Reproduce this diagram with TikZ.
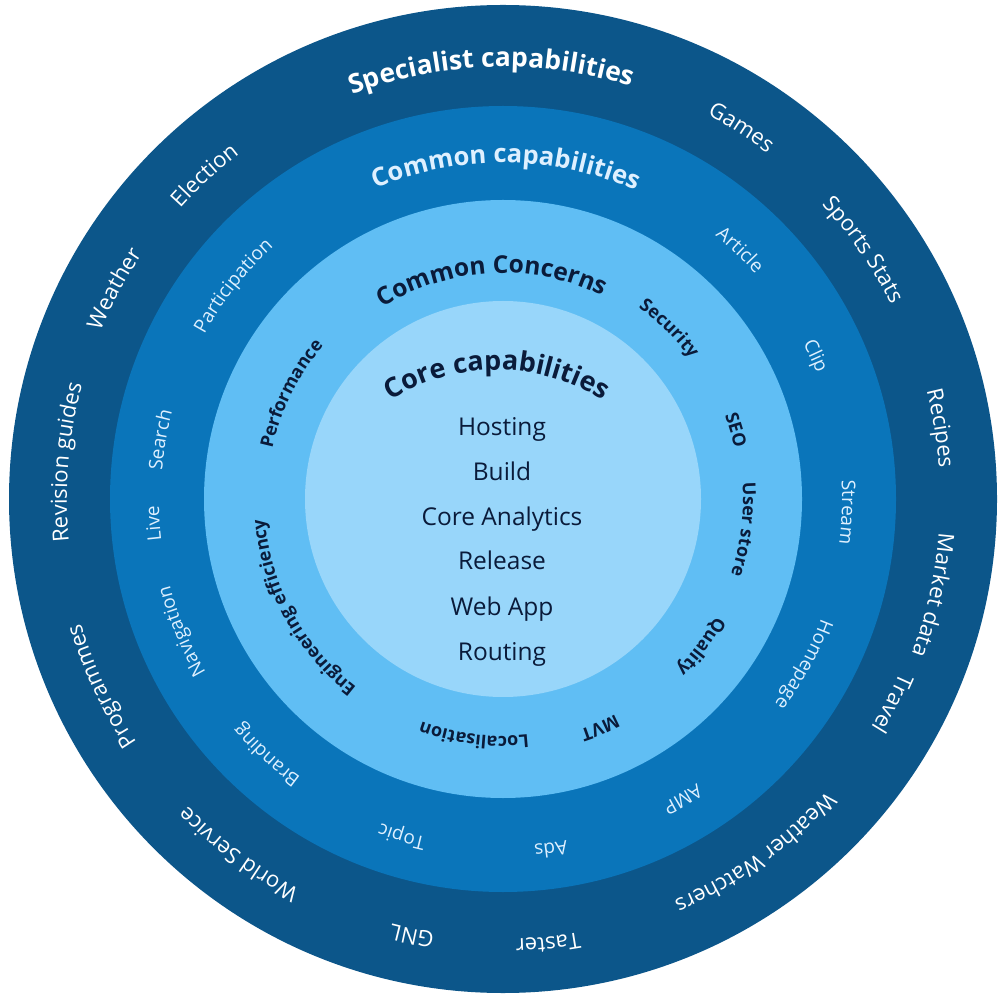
\documentclass[tikz,border=0pt]{standalone}
\usepackage{fontspec}
\setmainfont{Open Sans}
\usetikzlibrary{decorations.text}
\definecolor{ringA}{RGB}{12,86,138}
\definecolor{ringB}{RGB}{10,117,186}
\definecolor{ringC}{RGB}{96,190,244}
\definecolor{ringD}{RGB}{152,214,250}
\definecolor{navy}{RGB}{10,27,58}
\definecolor{paleblue}{RGB}{222,240,255}
% #1 angle, #2 baseline radius, #3 format, #4 colour, #5 text
\newcommand{\ringlabel}[5]{%
  \path[decorate, decoration={text along path, text align=center, text color=#4, text={|#3|#5}}]
    (C) ++({#1+70}:#2pt) arc[start angle={#1+70}, end angle={#1-70}, radius=#2pt];}
\newcommand{\outerfont}{\fontsize{22}{26}\selectfont}
\newcommand{\midfont}{\fontsize{19}{23}\selectfont}
\newcommand{\innerfont}{\fontsize{18}{22}\selectfont\bfseries}
\begin{document}
\begin{tikzpicture}[x=1pt,y=1pt,
  corelist/.style={font=\fontsize{24.5}{28}\selectfont, text=navy, inner sep=0pt, anchor=base}]
\useasboundingbox (0pt,0pt) rectangle (1008pt,1002pt);
\coordinate (C) at (503pt,503pt);
\fill[ringA] (C) circle[radius=494pt];
\fill[ringB] (C) circle[radius=393pt];
\fill[ringC] (C) circle[radius=299pt];
\fill[ringD] (C) circle[radius=198pt];
% outer ring
\ringlabel{91.6}{432}{\fontsize{26.5}{30}\selectfont\bfseries}{white}{Specialist capabilities}
\ringlabel{57.3}{435}{\outerfont}{white}{Games}
\ringlabel{34.7}{434}{\outerfont}{white}{Sports Stats}
\ringlabel{9.2}{437}{\outerfont}{white}{Recipes}
\ringlabel{-12.6}{437}{\outerfont}{white}{Market data}
\ringlabel{-27.7}{433}{\outerfont}{white}{Travel}
\ringlabel{-54.5}{436}{\outerfont}{white}{Weather Watchers}
\ringlabel{-84.2}{440}{\outerfont}{white}{Taster}
\ringlabel{-101.8}{439}{\outerfont}{white}{GNL}
\ringlabel{-126.7}{440}{\outerfont}{white}{World Service}
\ringlabel{-155}{440}{\outerfont}{white}{Programmes}
\ringlabel{175.2}{436}{\outerfont}{white}{Revision guides}
\ringlabel{151.6}{436}{\outerfont}{white}{Weather}
\ringlabel{132.7}{434}{\outerfont}{white}{Election}
% common capabilities ring
\ringlabel{89.5}{336}{\fontsize{25.5}{29}\selectfont\bfseries}{paleblue}{Common capabilities}
\ringlabel{46.4}{338}{\midfont}{paleblue}{Article}
\ringlabel{24.6}{338}{\midfont}{paleblue}{Clip}
\ringlabel{-2.2}{339}{\midfont}{paleblue}{Stream}
\ringlabel{-28.8}{340}{\midfont}{paleblue}{Homepage}
\ringlabel{-59.1}{344}{\midfont}{paleblue}{AMP}
\ringlabel{-82.2}{347}{\midfont}{paleblue}{Ads}
\ringlabel{-106.7}{347}{\midfont}{paleblue}{Topic}
\ringlabel{-132.7}{344}{\midfont}{paleblue}{Branding}
\ringlabel{-157.6}{344}{\midfont}{paleblue}{Navigation}
\ringlabel{-176}{344}{\midfont}{paleblue}{Live}
\ringlabel{170.2}{342}{\midfont}{paleblue}{Search}
\ringlabel{141.7}{341}{\midfont}{paleblue}{Participation}
% common concerns ring
\ringlabel{93}{226}{\fontsize{24.5}{28}\selectfont\bfseries}{navy}{Common Concerns}
\ringlabel{45.7}{234}{\innerfont}{navy}{Security}
\ringlabel{16.5}{237}{\innerfont}{navy}{SEO}
\ringlabel{-7.2}{240}{\innerfont}{navy}{User store}
\ringlabel{-36.7}{243}{\innerfont}{navy}{Quality}
\ringlabel{-67}{243}{\innerfont}{navy}{MVT}
\ringlabel{-97}{237}{\innerfont}{navy}{Localisation}
\ringlabel{-151.5}{239}{\innerfont}{navy}{Engineering efficiency}
\ringlabel{153.6}{236}{\innerfont}{navy}{Performance}
% core
\coordinate (CT) at (497pt,433pt);
\path[decorate, decoration={text along path, text align=center, text color=navy, text={|\fontsize{27}{31}\selectfont\bfseries|Core capabilities}}]
  (CT) ++(160:199pt) arc[start angle=160, end angle=20, radius=199pt];
\node[corelist] (hosting) at (502pt,566pt) {Hosting};
\node[corelist] (build) at (502pt,521pt) {Build};
\node[corelist] (analytics) at (502pt,476pt) {Core Analytics};
\node[corelist] (release) at (502pt,432pt) {Release};
\node[corelist] (webapp) at (502pt,387pt) {Web App};
\node[corelist] (routing) at (502pt,342pt) {Routing};
\end{tikzpicture}
\end{document}
